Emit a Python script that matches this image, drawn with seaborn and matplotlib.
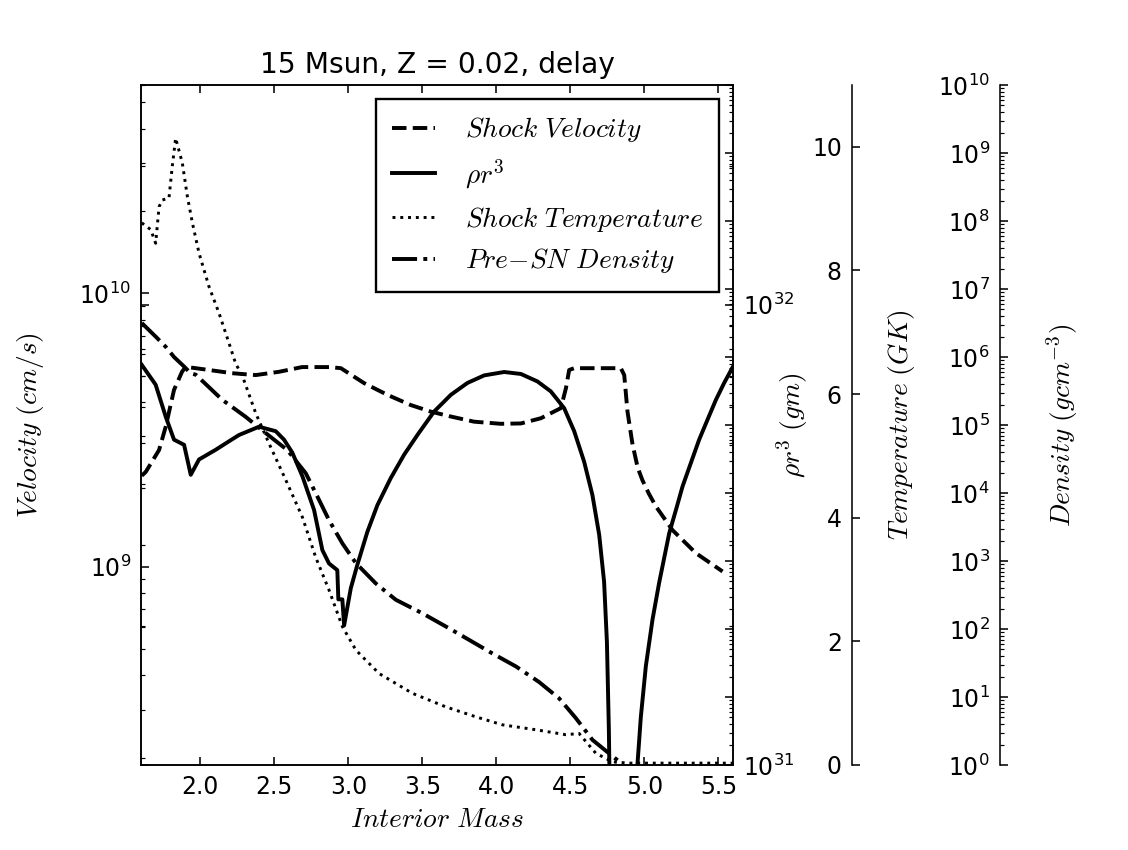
import numpy as np
import matplotlib
matplotlib.use("Agg")
import matplotlib.pyplot as plt
import matplotlib.ticker as mticker
import seaborn as sns

# Shock velocity (cm/s) vs interior mass
mass_vel = [1.605, 1.632, 1.722, 1.767, 1.823, 1.877, 1.902, 2.059, 2.215, 2.375,
            2.532, 2.688, 2.870, 2.950, 3.107, 3.264, 3.422, 3.557, 3.693, 3.850,
            4.030, 4.166, 4.301, 4.436, 4.470, 4.492, 4.526, 4.841, 4.864, 4.886,
            4.920, 4.955, 4.987, 5.030, 5.078, 5.190, 5.348, 5.528]
shock_vel = [2.15e9, 2.22e9, 2.67e9, 3.25e9, 4.43e9, 5.16e9, 5.38e9, 5.24e9, 5.10e9, 5.02e9,
             5.16e9, 5.37e9, 5.37e9, 5.32e9, 4.69e9, 4.25e9, 3.90e9, 3.69e9, 3.54e9, 3.39e9,
             3.33e9, 3.34e9, 3.49e9, 3.80e9, 4.49e9, 5.24e9, 5.32e9, 5.32e9, 5.02e9, 3.69e9,
             2.80e9, 2.30e9, 2.07e9, 1.85e9, 1.66e9, 1.36e9, 1.12e9, 9.6e8]

# rho r^3 (gm)
mass_rho = [1.605, 1.699, 1.767, 1.823, 1.891, 1.936, 1.992, 2.105, 2.195, 2.262,
            2.397, 2.510, 2.566, 2.622, 2.690, 2.769, 2.825, 2.870, 2.926, 2.933,
            2.960, 2.972, 3.017, 3.061, 3.129, 3.197, 3.287, 3.377, 3.467, 3.580,
            3.693, 3.805, 3.918, 4.053, 4.166, 4.278, 4.368, 4.458, 4.526, 4.593,
            4.649, 4.695, 4.728, 4.747, 4.760, 4.768, 4.775, 4.780, 4.935, 4.948,
            4.953, 4.976, 5.010, 5.055, 5.100, 5.168, 5.213, 5.258, 5.314, 5.370,
            5.426, 5.483, 5.539, 5.600]
rho_r3 = [7.4e31, 6.70e31, 5.71e31, 5.09e31, 4.96e31, 4.27e31, 4.61e31, 4.84e31, 5.05e31, 5.21e31,
          5.43e31, 5.31e31, 5.09e31, 4.77e31, 4.24e31, 3.58e31, 2.93e31, 2.74e31, 2.65e31, 2.29e31,
          2.29e31, 2.01e31, 2.42e31, 2.72e31, 3.21e31, 3.67e31, 4.20e31, 4.72e31, 5.21e31, 5.86e31,
          6.37e31, 6.76e31, 7.02e31, 7.14e31, 7.07e31, 6.81e31, 6.48e31, 5.96e31, 5.31e31, 4.56e31,
          3.86e31, 3.16e31, 2.50e31, 1.85e31, 1.2e31, 8.0e30, 2.0e30, 1.0e29, 1.0e29, 2.0e30,
          1.0e31, 1.27e31, 1.64e31, 2.07e31, 2.49e31, 3.19e31, 3.58e31, 4.03e31, 4.53e31, 5.09e31,
          5.62e31, 6.21e31, 6.76e31, 7.35e31]

# Shock temperature (GK)
mass_temp = [1.605, 1.666, 1.699, 1.722, 1.744, 1.789, 1.811, 1.834, 1.879, 1.913,
             1.947, 1.992, 2.059, 2.127, 2.195, 2.240, 2.284, 2.375, 2.465, 2.578,
             2.690, 2.780, 2.870, 2.960, 3.051, 3.208, 3.433, 3.659, 3.861, 4.041,
             4.267, 4.470, 4.559, 4.672, 4.785, 4.900, 5.200, 5.600]
shock_temp = [8.77, 8.66, 8.44, 9.03, 9.14, 9.17, 9.68, 10.14, 9.74, 9.20,
              8.77, 8.28, 7.74, 7.31, 6.82, 6.49, 6.30, 5.69, 5.20, 4.61,
              4.01, 3.36, 2.83, 2.24, 1.86, 1.48, 1.16, 0.94, 0.78, 0.65,
              0.57, 0.49, 0.51, 0.19, 0.05, 0.03, 0.03, 0.03]

# Pre-SN density (g/cm^3), stored as log10
mass_dens = [1.605, 1.699, 1.767, 1.823, 1.891, 1.936, 1.970, 2.149, 2.307, 2.443,
             2.589, 2.713, 2.791, 2.870, 2.960, 3.051, 3.186, 3.321, 3.501, 3.681,
             3.816, 3.974, 4.132, 4.289, 4.424, 4.537, 4.649, 4.762, 4.830, 4.880]
log_dens = [6.50, 6.30, 6.15, 6.00, 5.86, 5.76, 5.74, 5.37, 5.12, 4.88,
            4.63, 4.29, 3.95, 3.60, 3.26, 2.97, 2.67, 2.43, 2.23, 2.01,
            1.84, 1.64, 1.45, 1.22, 0.98, 0.69, 0.37, 0.17, 0.05, -0.3]
presn_dens = [10 ** v for v in log_dens]

plt.rcParams.update({
    "font.size": 12,
    "xtick.direction": "in",
    "ytick.direction": "in",
    "xtick.major.size": 4,
    "ytick.major.size": 4,
    "xtick.minor.size": 2,
    "ytick.minor.size": 2,
    "xtick.major.pad": 5,
    "ytick.major.pad": 5,
    "xtick.top": True,
    "ytick.right": True,
})

fig = plt.figure(figsize=(8, 850 / 141), dpi=141)
ax = fig.add_axes([0.125, 0.1, 0.525, 0.8])
ax_rho = ax.twinx()
ax_temp = ax.twinx()
ax_dens = ax.twinx()

sns.lineplot(x=mass_vel, y=shock_vel, ax=ax, color="black", linestyle="--", lw=2,
             estimator=None, sort=False, legend=False)
sns.lineplot(x=mass_rho, y=rho_r3, ax=ax_rho, color="black", linestyle="-", lw=2,
             estimator=None, sort=False, legend=False)
sns.lineplot(x=mass_temp, y=shock_temp, ax=ax_temp, color="black", linestyle=":", lw=1.5,
             estimator=None, sort=False, legend=False)
sns.lineplot(x=mass_dens, y=presn_dens, ax=ax_dens, color="black", linestyle="-.", lw=2,
             estimator=None, sort=False, legend=False)

ax.set_xlim(1.6, 5.6)
ax.set_xticks([2.0, 2.5, 3.0, 3.5, 4.0, 4.5, 5.0, 5.5])
ax.set_yscale("log")
ax.set_ylim(1.88e8, 5.78e10)

ax_rho.set_yscale("log")
ax_rho.set_ylim(1e31, 3e32)
ax_rho.tick_params(axis="y", which="both", left=True, right=True, labelleft=False)

for par, pos in [(ax_temp, 1.2), (ax_dens, 1.45)]:
    par.spines["left"].set_position(("axes", pos))
    par.spines["left"].set_visible(True)
    for s in ["right", "top", "bottom"]:
        par.spines[s].set_visible(False)
    par.yaxis.set_ticks_position("left")

ax_temp.set_ylim(0, 11)
ax_temp.yaxis.set_major_locator(mticker.MultipleLocator(2))

ax_dens.set_yscale("log")
ax_dens.set_ylim(1, 1e10)
ax_dens.yaxis.set_major_locator(mticker.LogLocator(base=10, numticks=15))
ax_dens.yaxis.set_minor_locator(mticker.LogLocator(base=10, subs=np.arange(2, 10), numticks=15))
ax_dens.yaxis.set_minor_formatter(mticker.NullFormatter())
ax_dens.tick_params(axis="y", which="both", right=True, labelright=False)

lab = dict(fontsize=14, math_fontfamily="cm")
ax.set_xlabel(r"$Interior\ Mass$", **lab)
ax.yaxis.set_label_coords(-0.186, 0.5)
ax.set_ylabel(r"$Velocity\ (cm/s)$", va="center", **lab)
ax_rho.yaxis.set_label_coords(1.10, 0.5)
ax_rho.set_ylabel(r"$\rho r^3\ (gm)$", va="center", **lab)
ax_temp.yaxis.set_label_coords(1.285, 0.5)
ax_temp.set_ylabel(r"$Temperature\ (GK)$", va="center", rotation=90, **lab)
ax_dens.yaxis.set_label_coords(1.556, 0.5)
ax_dens.set_ylabel(r"$Density\ (gcm^{-3})$", va="center", rotation=90, **lab)

ax.set_title("15 Msun, Z = 0.02, delay", fontsize=14.4)

handles = [ax.lines[0], ax_rho.lines[0], ax_temp.lines[0], ax_dens.lines[0]]
labels = [r"$Shock\ Velocity$", r"$\rho r^3$", r"$Shock\ Temperature$", r"$Pre{-}SN\ Density$"]
leg = ax_dens.legend(handles, labels, loc="upper right", fontsize=14, handlelength=1.55,
                     handletextpad=1.1, borderpad=0.6, labelspacing=0.47,
                     fancybox=False, framealpha=1, edgecolor="black")
leg.get_frame().set_linewidth(1.2)
for t in leg.get_texts():
    t.set_math_fontfamily("cm")

fig.savefig("out.png", dpi=141)
